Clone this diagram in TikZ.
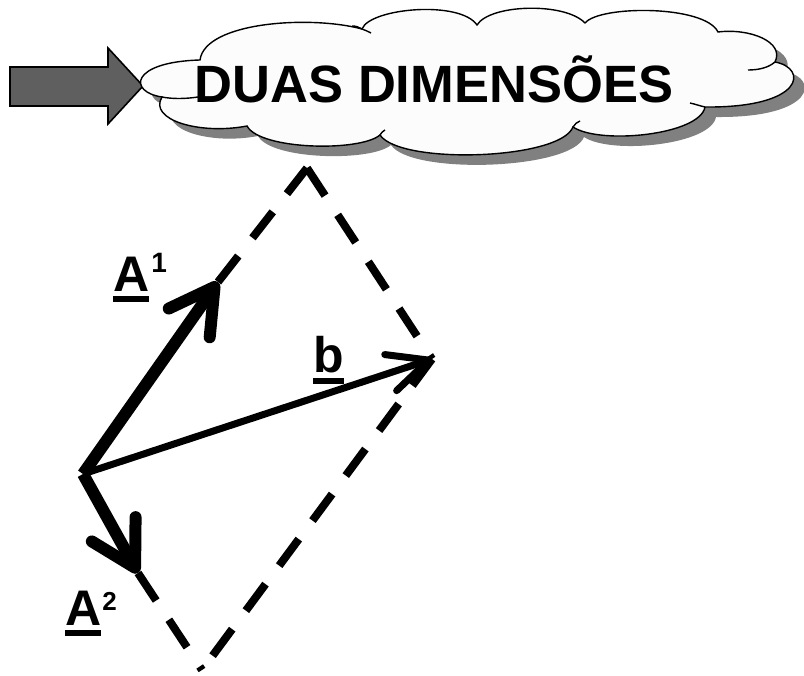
\documentclass[tikz,border=0pt]{standalone}
\usepackage{fontspec}
\setmainfont{Liberation Sans}
\usetikzlibrary{arrows.meta}
\definecolor{arrowgray}{HTML}{5F5F5F}
\definecolor{shadowgray}{HTML}{808080}
\definecolor{cloudfill}{HTML}{FCFCFC}
\newcommand\ulbox[1]{\vtop{\hbox{#1}\kern4.5pt\hrule height 6pt}}
\newcommand\cloudpath{(162,97) .. controls (128,92) and (130,62) .. (200,60)
  .. controls (205,22) and (310,15) .. (362,29)
  .. controls (370,8) and (460,0) .. (477,25)
  .. controls (490,4) and (565,2) .. (585,23)
  .. controls (600,5) and (705,5) .. (718,32)
  .. controls (750,28) and (785,42) .. (775,62)
  .. controls (808,68) and (805,108) .. (705,107)
  .. controls (700,135) and (600,145) .. (573,127)
  .. controls (560,160) and (400,165) .. (380,135)
  .. controls (360,152) and (260,150) .. (247,126)
  .. controls (200,135) and (148,120) .. cycle}
\begin{document}
\begin{tikzpicture}[x=1pt,y=-1pt,
  vecA/.style={line width=12pt, line cap=butt,
     -{Straight Barb[length=44pt,width=50pt,round]}},
  vecB/.style={line width=7pt, line cap=butt,
     -{Straight Barb[length=40pt,width=38pt,round]}},
  dsh/.style={line width=8pt, dash pattern=on 33pt off 23pt},
  tail/.style={line width=1.4pt},
  lbl/.style={anchor=base west, inner sep=0pt, font=\fontsize{50}{50}\selectfont\bfseries},
  title/.style={anchor=base, inner sep=0pt, font=\fontsize{52.5}{52.5}\selectfont\bfseries}]
\useasboundingbox (0,0) rectangle (804,676);

% gray block arrow
\draw[line width=1.6pt, fill=arrowgray, line join=miter]
  (10,67) -- (108,67) -- (108,48) -- (143,86) -- (108,124) -- (108,106) -- (10,106) -- cycle;

% cloud with shadow
\fill[shadowgray, shift={(11,10)}] \cloudpath;
\draw[line width=1.4pt, fill=cloudfill] \cloudpath;
\draw[tail] (162,97) .. controls (172,99) and (185,99) .. (198,97);
\draw[tail] (775,62) .. controls (768,68) and (758,70) .. (748,70);
\draw[tail] (362,29) .. controls (364,30) and (368,31) .. (371,33);
\draw[tail] (362,29) .. controls (359,27) and (356,26) .. (352,26);
\draw[tail] (573,127) .. controls (575,124) and (577,122) .. (580,121);
\draw[tail] (380,135) .. controls (381,133) and (383,131) .. (385,130);
\draw[tail] (705,107) .. controls (700,106) and (695,104) .. (690,103);
\node[title] (title) at (434,103) {DUAS DIMENSÕES};

% geometry
\coordinate (O) at (83,474);
\coordinate (T1) at (218,282);
\coordinate (T2) at (138,573);
\coordinate (B) at (432,359);
\coordinate (P1) at (307,168);
\coordinate (P2) at (202,670);

% dashed parallelogram
\draw[dsh] (T1) -- (P1);
\draw[dsh] (P1) -- (B);
\draw[dsh] (B) -- (P2);
\draw[dsh] (T2) -- (P2);

% vectors
\draw[vecB] (O) -- (B);
\draw[vecA] (O) -- (T1);
\draw[vecA] (O) -- (T2);

% labels
\node[lbl] (labA1) at (113,292) {\ulbox{A}\kern2pt\raisebox{19pt}{\fontsize{28}{28}\selectfont 1}};
\node[lbl] (labA2) at (65,625) {\ulbox{A}\kern1pt\raisebox{15pt}{\fontsize{26}{26}\selectfont 2}};
\node[lbl] (labb) at (313,373) {\ulbox{b}};
\end{tikzpicture}
\end{document}
